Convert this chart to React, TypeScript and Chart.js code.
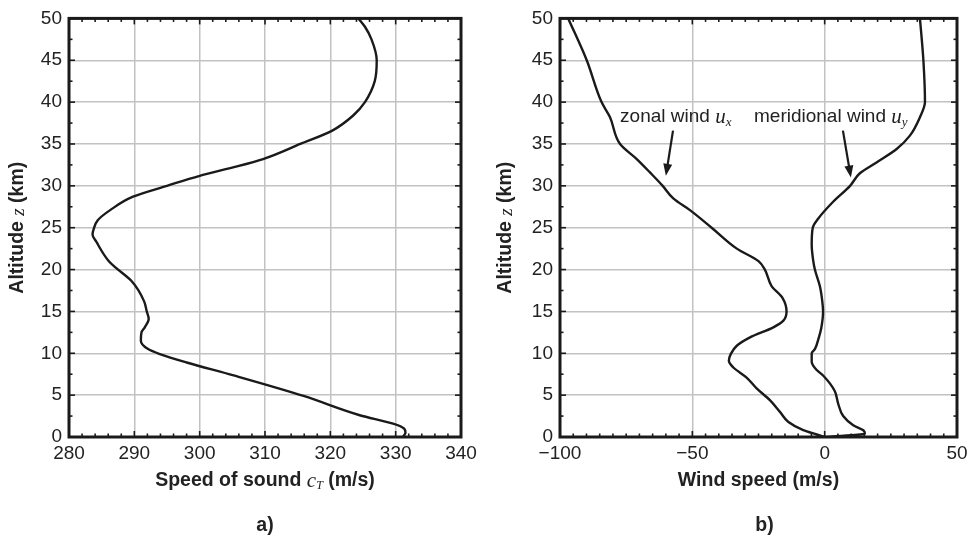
import { useEffect, useRef } from 'react';
import { Chart, registerables } from 'chart.js';

Chart.register(...registerables);

// ---- Data: panel a) speed of sound vs altitude ----
const soundAltitude = [0, 0.5, 1.0, 1.6, 2.6, 4.9, 7.35, 8.9, 9.9, 10.5, 11.5, 12.5, 13.1, 14.1, 15.0, 16.2, 18.6, 20.2, 21.0, 23.3, 24.2, 24.9, 25.9, 27.1, 28.7, 30.0, 31.2, 32.2, 33.2, 35.0, 36.6, 38.4, 40.0, 42.5, 45.0, 47.5, 49.0, 50.0];
const soundSpeed = [331.1, 331.5, 331.3, 329.6, 324.5, 315.9, 305.2, 298.0, 293.9, 292.1, 291.0, 291.1, 291.6, 292.2, 291.9, 291.5, 289.6, 287.2, 286.1, 284.2, 283.6, 283.8, 284.4, 286.3, 289.8, 295.0, 300.0, 305.1, 309.7, 315.4, 320.3, 323.5, 325.3, 326.8, 327.1, 326.3, 325.3, 324.3];

// ---- Data: panel b) wind speeds vs altitude ----
const zonalAltitude = [0, 0.3, 0.83, 1.8, 3.0, 4.4, 5.8, 7.1, 8.3, 9.1, 9.9, 10.9, 11.9, 13.1, 13.9, 15.0, 16.6, 18.0, 20.0, 21.0, 22.5, 25.0, 27.1, 28.5, 30.0, 31.6, 33.2, 35.0, 38.2, 40.0, 45.0, 50.0];
const zonalWind = [0, -3.0, -8.1, -13.7, -16.9, -20.7, -25.7, -29.5, -34.5, -36.2, -35.5, -33.2, -28.2, -19.4, -15.6, -14.4, -15.9, -20.0, -22.6, -25.0, -33.2, -42.7, -50.9, -57.2, -61.2, -66.0, -71.0, -77.3, -81.1, -84.3, -89.9, -96.9];

const meridAltitude = [0, 0.4, 0.8, 1.4, 2.5, 4.0, 5.5, 7.35, 8.0, 9.0, 10.0, 10.5, 12.0, 13.0, 15.0, 16.2, 18.0, 20.0, 21.0, 23.0, 25.0, 26.1, 28.1, 30.0, 31.5, 32.8, 34.4, 36.0, 38.2, 40.0, 45.0, 50.0];
const meridWind = [0, 15.2, 14.6, 10.8, 7.0, 5.1, 3.8, -0.6, -3.0, -4.9, -4.9, -3.7, -2.1, -1.3, -0.6, -0.9, -1.8, -3.7, -4.3, -4.9, -4.5, -2.4, 3.2, 9.6, 13.3, 19.6, 27.2, 32.2, 36.0, 37.9, 37.3, 36.0];

// ---- Axis settings ----
const altitudeRange = [0, 50];
const altitudeStep = 5;
const soundRange = [280, 340];
const soundStep = 10;
const windRange = [-100, 50];
const windStep = 50;

const SANS = '"Liberation Sans", Arial, Helvetica, sans-serif';
const SERIF = '"Liberation Serif", "Times New Roman", serif';
const INK = '#1a1a1a';
const TITLE_FONT = `bold 19.5px ${SANS}`;

type Run = { text: string; font: string; dy?: number };

function drawRuns(ctx: CanvasRenderingContext2D, runs: Run[], x: number, y: number, align: 'center' | 'left') {
  let total = 0;
  const widths = runs.map((r) => {
    ctx.font = r.font;
    const w = ctx.measureText(r.text).width;
    total += w;
    return w;
  });
  let cx = align === 'center' ? x - total / 2 : x;
  ctx.textBaseline = 'middle';
  ctx.textAlign = 'left';
  runs.forEach((r, i) => {
    ctx.font = r.font;
    ctx.fillText(r.text, cx, y + (r.dy || 0));
    cx += widths[i];
  });
}

function drawArrow(ctx: CanvasRenderingContext2D, x1: number, y1: number, x2: number, y2: number) {
  const ang = Math.atan2(y2 - y1, x2 - x1);
  const head = 12;
  const half = 4.5;
  ctx.lineWidth = 2.2;
  ctx.beginPath();
  ctx.moveTo(x1, y1);
  ctx.lineTo(x2 - Math.cos(ang) * head * 0.8, y2 - Math.sin(ang) * head * 0.8);
  ctx.stroke();
  ctx.beginPath();
  ctx.moveTo(x2, y2);
  ctx.lineTo(x2 - Math.cos(ang) * head - Math.sin(ang) * half, y2 - Math.sin(ang) * head + Math.cos(ang) * half);
  ctx.lineTo(x2 - Math.cos(ang) * head + Math.sin(ang) * half, y2 - Math.sin(ang) * head - Math.cos(ang) * half);
  ctx.closePath();
  ctx.fill();
}

type PanelCfg = {
  xMinor: number;
  xMajor: number;
  yMinor: number;
  yMajor: number;
  xTitle: Run[];
  yTitleX: number;
  panelLabel: string;
  panelDx: number;
  annotate?: boolean;
};

function makeDecor(cfg: PanelCfg) {
  return {
    id: 'decor',
    afterDraw(chart: any) {
      const { ctx, chartArea: a, scales } = chart;
      const xs = scales.x;
      const ys = scales.y;
      ctx.save();
      ctx.strokeStyle = INK;
      ctx.fillStyle = INK;
      const line = (x1: number, y1: number, x2: number, y2: number) => {
        ctx.beginPath();
        ctx.moveTo(x1, y1);
        ctx.lineTo(x2, y2);
        ctx.stroke();
      };
      ctx.lineWidth = 1.6;
      const xmin = xs.min, xmax = xs.max;
      for (let v = xmin; v <= xmax + 1e-9; v += cfg.xMinor) {
        const p = xs.getPixelForValue(v);
        const r = (v - xmin) / cfg.xMajor;
        const major = Math.abs(r - Math.round(r)) < 1e-6;
        const len = major ? 6 : 3.5;
        line(p, a.bottom, p, a.bottom - len);
        line(p, a.top, p, a.top + len);
      }
      const ymin = ys.min, ymax = ys.max;
      for (let v = ymin; v <= ymax + 1e-9; v += cfg.yMinor) {
        const p = ys.getPixelForValue(v);
        const r = (v - ymin) / cfg.yMajor;
        const major = Math.abs(r - Math.round(r)) < 1e-6;
        const len = major ? 6 : 3.5;
        line(a.left, p, a.left + len, p);
        line(a.right, p, a.right - len, p);
      }
      ctx.lineWidth = 3;
      ctx.strokeRect(a.left, a.top, a.right - a.left, a.bottom - a.top);

      ctx.fillStyle = '#222';
      const cx = (a.left + a.right) / 2;
      drawRuns(ctx, cfg.xTitle, cx, 481, 'center');
      ctx.save();
      ctx.translate(cfg.yTitleX, (a.top + a.bottom) / 2);
      ctx.rotate(-Math.PI / 2);
      drawRuns(
        ctx,
        [
          { text: 'Altitude ', font: TITLE_FONT },
          { text: 'z', font: `italic 19px ${SERIF}`, dy: 1 },
          { text: ' (km)', font: TITLE_FONT },
        ],
        0,
        0,
        'center'
      );
      ctx.restore();
      drawRuns(ctx, [{ text: cfg.panelLabel, font: TITLE_FONT }], cx + cfg.panelDx, 526, 'center');

      if (cfg.annotate) {
        const ty = ys.getPixelForValue(38.2);
        drawRuns(
          ctx,
          [
            { text: 'zonal wind ', font: `19px ${SANS}` },
            { text: 'u', font: `italic 21px ${SERIF}` },
            { text: 'x', font: `italic 13px ${SERIF}`, dy: 5 },
          ],
          xs.getPixelForValue(-77.3),
          ty,
          'left'
        );
        drawRuns(
          ctx,
          [
            { text: 'meridional wind ', font: `19px ${SANS}` },
            { text: 'u', font: `italic 21px ${SERIF}` },
            { text: 'y', font: `italic 13px ${SERIF}`, dy: 5 },
          ],
          xs.getPixelForValue(-26.7),
          ty,
          'left'
        );
        ctx.fillStyle = INK;
        ctx.strokeStyle = INK;
        drawArrow(ctx, xs.getPixelForValue(-57.3), ys.getPixelForValue(36.6), xs.getPixelForValue(-60.0), ys.getPixelForValue(31.2));
        drawArrow(ctx, xs.getPixelForValue(6.9), ys.getPixelForValue(36.6), xs.getPixelForValue(9.9), ys.getPixelForValue(31.0));
      }
      ctx.restore();
    },
  };
}

const fmt = (v: number) => (v < 0 ? '\u2212' + Math.abs(v) : String(v));

function makeConfig(
  datasets: { x: number[]; y: number[] }[],
  xRange: number[],
  xStep: number,
  yAxisWidth: number,
  padRight: number,
  cfg: PanelCfg
): any {
  return {
    type: 'scatter',
    data: {
      datasets: datasets.map((d) => ({
        data: d.x.map((v, i) => ({ x: v, y: d.y[i] })),
        showLine: true,
        borderColor: INK,
        borderWidth: 2.4,
        pointRadius: 0,
        cubicInterpolationMode: 'monotone',
        indexAxis: 'y',
        fill: false,
      })),
    },
    options: {
      responsive: false,
      animation: false,
      devicePixelRatio: 1,
      indexAxis: 'y',
      layout: { padding: { top: 15, right: padRight, left: 0, bottom: 0 } },
      plugins: { legend: { display: false }, tooltip: { enabled: false }, title: { display: false } },
      scales: {
        x: {
          type: 'linear',
          position: 'bottom',
          min: xRange[0],
          max: xRange[1],
          ticks: { stepSize: xStep, color: '#222', font: { size: 19, family: SANS }, padding: 5, callback: (v: number) => fmt(v), maxRotation: 0 },
          grid: { color: '#c2c2c2', lineWidth: 1.5, drawTicks: false },
          border: { display: false },
          afterFit: (s: any) => {
            s.height = 102;
          },
        },
        y: {
          type: 'linear',
          position: 'left',
          min: altitudeRange[0],
          max: altitudeRange[1],
          ticks: { stepSize: altitudeStep, color: '#222', font: { size: 19, family: SANS }, padding: 7, callback: (v: number) => fmt(v) },
          grid: { color: '#c2c2c2', lineWidth: 1.5, drawTicks: false },
          border: { display: false },
          afterFit: (s: any) => {
            s.width = yAxisWidth;
          },
        },
      },
    },
    plugins: [makeDecor(cfg)],
  };
}

export default function App() {
  const leftRef = useRef<HTMLCanvasElement>(null);
  const rightRef = useRef<HTMLCanvasElement>(null);

  useEffect(() => {
    const left = new Chart(
      leftRef.current as HTMLCanvasElement,
      makeConfig([{ x: soundSpeed, y: soundAltitude }], soundRange, soundStep, 69, 26, {
        xMinor: 2,
        xMajor: 10,
        yMinor: 2.5,
        yMajor: 5,
        xTitle: [
          { text: 'Speed of sound ', font: TITLE_FONT },
          { text: 'c', font: `italic 21px ${SERIF}` },
          { text: 'T', font: `italic 12px ${SERIF}`, dy: 5 },
          { text: ' (m/s)', font: TITLE_FONT },
        ],
        yTitleX: 18,
        panelLabel: 'a)',
        panelDx: 0,
      })
    );
    const right = new Chart(
      rightRef.current as HTMLCanvasElement,
      makeConfig(
        [
          { x: zonalWind, y: zonalAltitude },
          { x: meridWind, y: meridAltitude },
        ],
        windRange,
        windStep,
        73,
        18,
        {
          xMinor: 5,
          xMajor: 50,
          yMinor: 2.5,
          yMajor: 5,
          xTitle: [{ text: 'Wind speed (m/s)', font: TITLE_FONT }],
          yTitleX: 19,
          panelLabel: 'b)',
          panelDx: 6,
          annotate: true,
        }
      )
    );
    return () => {
      left.destroy();
      right.destroy();
    };
  }, []);

  return (
    <div style={{ position: 'fixed', left: 0, top: 0, width: 975, height: 539, background: '#fff' }}>
      <canvas ref={leftRef} width={487} height={539} style={{ position: 'absolute', left: 0, top: 0 }} />
      <canvas ref={rightRef} width={488} height={539} style={{ position: 'absolute', left: 487, top: 0 }} />
    </div>
  );
}
